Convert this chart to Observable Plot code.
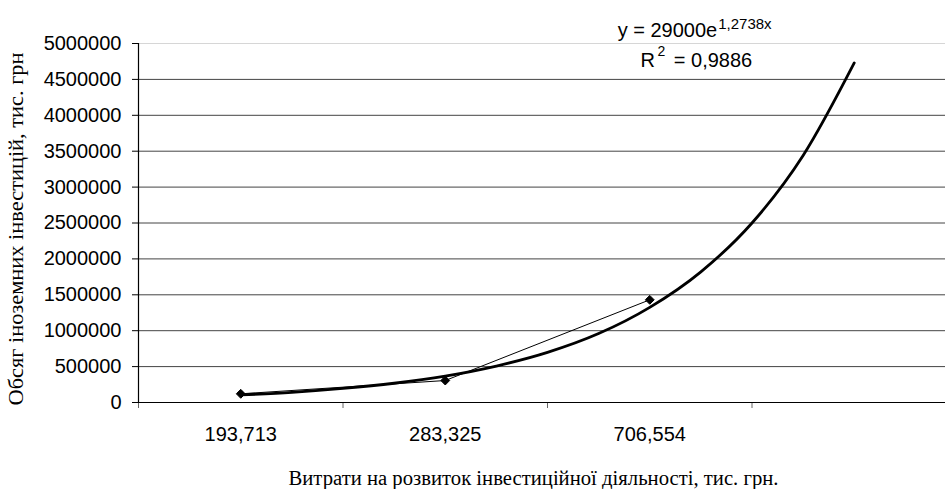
<!DOCTYPE html>
<html>
<head>
<meta charset="utf-8">
<script src="https://cdn.jsdelivr.net/npm/d3@7"></script>
<script src="https://cdn.jsdelivr.net/npm/@observablehq/plot@0.6"></script>
<style>
  html, body { margin: 0; padding: 0; background: #fff; }
  #chart svg { display: block; }
</style>
</head>
<body>
<div id="chart"></div>
<script>
// ---- Data ----
const categories = ["193,713", "283,325", "706,554"];
const foreignInvestment = [121000, 306000, 1430000];

// Exponential trendline (category position -> value)
const trendPositions = [1, 1.25, 1.5, 1.75, 2, 2.25, 2.5, 2.75, 3, 3.25, 3.5, 3.75, 4];
const trendValues = [105000, 142000, 196000, 268000, 368000, 508000, 698000, 960000, 1325000, 1820000, 2500000, 3440000, 4730000];

const yTicks = [0, 500000, 1000000, 1500000, 2000000, 2500000, 3000000, 3500000, 4000000, 4500000, 5000000];
const xBoundaries = [0.5, 1.5, 2.5, 3.5];

const equationMain = "y = 29000e";
const equationExp = "1,2738x";
const r2Base = "R";
const r2Exp = "2";
const r2Value = "= 0,9886";
const yTitle = "Обсяг іноземних інвестицій, тис. грн";
const xTitle = "Витрати на розвиток інвестиційної діяльності, тис. грн.";

// ---- Tables built from the arrays ----
const points = categories.map((c, i) => ({pos: i + 1, value: foreignInvestment[i]}));
const trend = trendPositions.map((p, i) => ({pos: p, value: trendValues[i]}));

const sans = "'Liberation Sans', Arial, sans-serif";
const serif = "'Liberation Serif', 'Times New Roman', serif";

const chart = Plot.plot({
  width: 945,
  height: 489,
  marginLeft: 138,
  marginRight: 0,
  marginTop: 43,
  marginBottom: 87,
  style: {fontFamily: sans, fontSize: "20px", color: "#000", background: "#fff", overflow: "visible"},
  x: {domain: [0.5, 0.5 + 807 / 204.5]},
  y: {domain: [0, 5000000]},
  marks: [
    Plot.ruleY(yTicks.filter(d => d > 0), {stroke: d => d === 5000000 ? "#d6d6d6" : "#444", strokeWidth: 1}),
    Plot.axisY({ticks: yTicks, tickFormat: d3.format("d"), tickSize: 6, tickPadding: 11, label: null, stroke: "#000", fill: "#000", fontSize: 20}),
    Plot.axisX({ticks: xBoundaries, tickSize: 6, tickFormat: () => "", label: null, stroke: "#666"}),
    Plot.ruleY([0], {stroke: "#000", strokeWidth: 1.2}),
    Plot.ruleX([0.5], {y1: 0, y2: 5000000, stroke: "#000", strokeWidth: 1.2}),
    Plot.text(points, {x: "pos", text: (d, i) => categories[i], frameAnchor: "bottom", textAnchor: "middle", dy: 38, lineAnchor: "bottom", fontSize: 20}),
    Plot.line(trend, {x: "pos", y: "value", curve: "monotone-x", stroke: "#000", strokeWidth: 2.8}),
    Plot.line(points, {x: "pos", y: "value", stroke: "#000", strokeWidth: 1}),
    Plot.dot(points, {x: "pos", y: "value", symbol: "diamond2", r: 4, fill: "#000", stroke: "#000", strokeWidth: 1}),
    Plot.text([equationMain], {frameAnchor: "top-left", dx: 578.7, dy: -6.3, textAnchor: "end", lineAnchor: "bottom", fontSize: 20}),
    Plot.text([equationExp], {frameAnchor: "top-left", dx: 579.7, dy: -14.7, textAnchor: "start", lineAnchor: "bottom", fontSize: 15}),
    Plot.text([r2Base], {frameAnchor: "top-left", dx: 502, dy: 23.7, textAnchor: "start", lineAnchor: "bottom", fontSize: 20}),
    Plot.text([r2Exp], {frameAnchor: "top-left", dx: 519, dy: 12, textAnchor: "start", lineAnchor: "bottom", fontSize: 14}),
    Plot.text([r2Value], {frameAnchor: "top-left", dx: 613.7, dy: 23.7, textAnchor: "end", lineAnchor: "bottom", fontSize: 20}),
    Plot.text([yTitle], {className: "ytitle", frameAnchor: "left", textAnchor: "middle", dx: -122, dy: 6, rotate: -90, fontFamily: serif, fontSize: 20.5}),
    Plot.text([xTitle], {className: "xtitle", frameAnchor: "bottom", textAnchor: "middle", dx: -8.5, dy: 82, lineAnchor: "bottom", fontFamily: serif, fontSize: 20.5})
  ]
});

// Match the lengths of the two axis titles to the reference
d3.select(chart).selectAll(".ytitle text").attr("textLength", 353).attr("lengthAdjust", "spacingAndGlyphs");
d3.select(chart).selectAll(".xtitle text").attr("textLength", 490).attr("lengthAdjust", "spacingAndGlyphs");

document.getElementById("chart").appendChild(chart);
</script>
</body>
</html>
